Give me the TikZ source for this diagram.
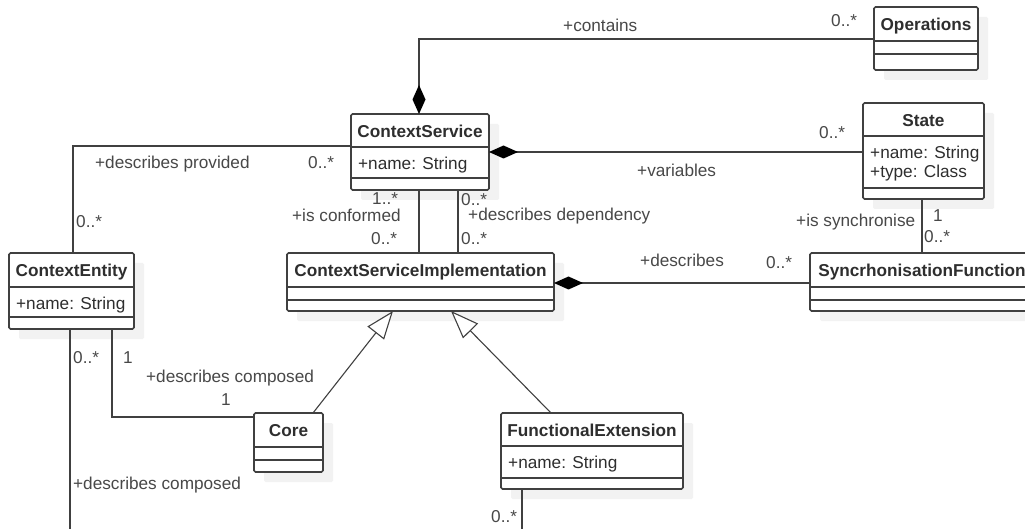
\documentclass[tikz,border=0pt]{standalone}
\usepackage{fontspec}
\setmainfont{Liberation Sans}
\usetikzlibrary{arrows.meta,fit,calc}
\definecolor{linec}{HTML}{404040}
\definecolor{txtc}{HTML}{2E2E2E}
\definecolor{lblc}{HTML}{484848}
\definecolor{shadc}{HTML}{F2F2F2}
\newcommand\umlclass[8]{%
  \fill[shadc, rounded corners=1.5pt] (#2+10,#3+10) rectangle (#4+10,#5+10);
  \node[box, fit={(#2,#3) (#4,#5)}] (#1) {};
  \draw[cline] (#2,#6) -- (#4,#6) (#2,#7) -- (#4,#7);
  \node[ttl] (#1-t) at ({(#2+#4)/2},{#3+23.5}) {#8};
}
\begin{document}
\begin{tikzpicture}[x=1pt,y=-1pt,
  font=\fontsize{17.2}{20}\selectfont,
  box/.style={draw=linec, fill=white, line width=1.6pt, inner sep=0pt, outer sep=0pt, rounded corners=1.5pt},
  cline/.style={draw=linec, line width=1.6pt},
  ttl/.style={anchor=base, inner sep=0pt, text=txtc, font=\fontsize{17.2}{20}\selectfont\bfseries},
  attr/.style={anchor=base west, inner sep=0pt, text=txtc, align=left},
  lbl/.style={anchor=base west, inner sep=0pt, text=lblc},
  conn/.style={draw=linec, line width=1.6pt},
  comp/.style={{Diamond[length=29pt,width=13pt,fill=black,color=black]}-},
  compE/.style={-{Diamond[length=29pt,width=13pt,fill=black,color=black]}},
  gen/.style={draw=linec, line width=1.1pt, -{Triangle[open, length=28pt, width=21pt, fill=white]}}
]
\fill[white] (0,0) rectangle (1025,529);
\useasboundingbox (0,0) rectangle (1025,529);

% classes
\umlclass{ops}{874}{7}{978}{70}{41}{54}{Operations}
\umlclass{cs}{351}{114}{489}{190}{147}{178}{ContextService}
\node[attr] (cs-a) at (358,169.5) {+name: String};
\umlclass{st}{863}{103}{984}{199}{136}{188}{State}
\node[attr, anchor=base west] (st-a) at (870,158.5) {+name: String};
\node[attr, anchor=base west] (st-b) at (870,178) {+type: Class};
\umlclass{ce}{9}{253}{134}{329}{287}{317}{ContextEntity}
\node[attr] (ce-a) at (16,309) {+name: String};
\umlclass{csi}{287}{253}{554}{311}{287}{300}{ContextServiceImplementation}
\umlclass{sf}{810}{253}{1034}{311}{287}{300}{SyncrhonisationFunction}
\umlclass{core}{254}{413}{323}{472}{447}{460}{Core}
\umlclass{fe}{501}{413}{683}{489}{446}{478}{FunctionalExtension}
\node[attr] (fe-a) at (508,468.5) {+name: String};

% connector helper coordinates
\coordinate (k1) at (419,39);
\coordinate (k2) at (700,152);
\coordinate (k3) at (73,146);
\coordinate (k4) at (419,230);
\coordinate (k5) at (458,230);
\coordinate (k6) at (922,230);
\coordinate (k7) at (700,283);
\coordinate (k8) at (112,417);
\coordinate (k9) at (70,529);
\coordinate (k10) at (522,529);
\coordinate (g1) at (313,413);
\coordinate (g2) at (393,311);
\coordinate (g3) at (551,413);
\coordinate (g4) at (451,311);

% connectors
\draw[conn, compE] (ops.west |- k1) -- (k1) -- (cs.north -| k1);
\draw[conn, comp] (cs.east |- k2) -- (st.west |- k2);
\draw[conn] (cs.west |- k3) -- (k3) -- (ce.north -| k3);
\draw[conn] (cs.south -| k4) -- (csi.north -| k4);
\draw[conn] (cs.south -| k5) -- (csi.north -| k5);
\draw[conn] (st.south -| k6) -- (sf.north -| k6);
\draw[conn, comp] (csi.east |- k7) -- (sf.west |- k7);
\draw[conn] (ce.south -| k8) -- (k8) -- (core.west |- k8);
\draw[conn] (ce.south -| k9) -- (k9);
\draw[conn] (fe.south -| k10) -- (k10);
\draw[gen] (core.north -| g1) -- (csi.south -| g2);
\draw[gen] (fe.north -| g3) -- (csi.south -| g4);

% labels
\node[lbl] (l1) at (563,32) {+contains};
\node[lbl] (l2) at (831,27) {0..*};
\node[lbl] (l3) at (95,168.5) {+describes provided};
\node[lbl] (l4) at (308,168.5) {0..*};
\node[lbl] (l5) at (76,228) {0..*};
\node[lbl] (l6) at (292,222) {+is conformed};
\node[lbl] (l7) at (372,205) {1..*};
\node[lbl] (l8) at (371,245) {0..*};
\node[lbl] (l9) at (461,206) {0..*};
\node[lbl] (l10) at (468,221) {+describes dependency};
\node[lbl] (l11) at (461,245) {0..*};
\node[lbl] (l12) at (637,177) {+variables};
\node[lbl] (l13) at (819,139) {0..*};
\node[lbl] (l14) at (796,227) {+is synchronise};
\node[lbl] (l15) at (933,222) {1};
\node[lbl] (l16) at (924,243) {0..*};
\node[lbl] (l17) at (640,267) {+describes};
\node[lbl] (l18) at (766,269) {0..*};
\node[lbl] (l19) at (73,363) {0..*};
\node[lbl] (l20) at (123,363) {1};
\node[lbl] (l21) at (146,382) {+describes composed};
\node[lbl] (l22) at (221,405) {1};
\node[lbl] (l23) at (73,489) {+describes composed};
\node[lbl] (l24) at (491,522) {0..*};
\end{tikzpicture}
\end{document}
